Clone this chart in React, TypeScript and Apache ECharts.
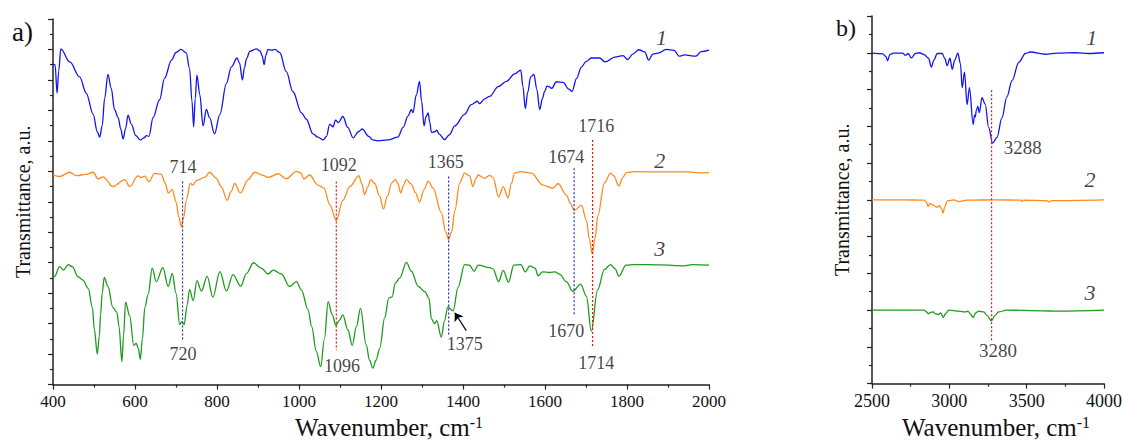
import React, { useEffect, useRef } from "react";
import * as echarts from "echarts";

// ---------- Panel a (400-2000 cm-1) ----------
const blueA: number[][] = [[400,10.5],[405,10.5],[410,9.57],[414,10.3],[419,11.02],[441,10.59],[465,10.1],[481,9.57],[498,8.87],[508,8.3],[514,8.12],[520,8.5],[526,9.4],[534,10.18],[542,9.73],[550,9.03],[559,8.76],[565,8.4],[571,8.06],[577,8.4],[583,8.84],[591,8.55],[602,8.17],[613,8.03],[622,8.1],[628,8.17],[634,8.15],[644,8.76],[660,9.35],[672,10.05],[689,10.65],[700,10.9],[712,11.0],[725,10.89],[733,10.38],[739,9.3],[743,8.46],[747,9.4],[751,10.16],[758,9.52],[766,8.49],[774,9.03],[782,8.76],[794,8.23],[807,8.87],[823,9.89],[835,10.43],[849,10.72],[855,10.55],[862,10.0],[867,10.4],[872,10.7],[880,10.94],[896,11.02],[905,10.95],[910,10.8],[915,10.5],[919,10.8],[924,11.0],[933,10.98],[941,11.0],[953,10.9],[969,10.27],[985,9.62],[1006,8.92],[1018,8.71],[1034,8.23],[1046,8.12],[1059,8.03],[1067,8.15],[1075,8.55],[1083,8.46],[1089,8.68],[1096,8.6],[1107,8.8],[1119,8.44],[1132,8.1],[1145,8.3],[1154,8.39],[1170,8.15],[1180,8.03],[1192,8.0],[1217,8.03],[1241,8.12],[1254,8.44],[1266,8.82],[1274,9.03],[1278,8.92],[1286,9.5],[1294,9.95],[1299,9.3],[1305,8.49],[1310,8.8],[1315,8.92],[1319,8.6],[1323,8.28],[1331,8.3],[1336,8.35],[1342,8.22],[1355,8.04],[1367,8.2],[1380,8.49],[1404,8.87],[1420,9.19],[1435,9.3],[1440,9.22],[1453,9.38],[1465,9.46],[1486,9.78],[1506,9.95],[1526,10.2],[1541,10.32],[1546,9.8],[1552,9.06],[1558,9.6],[1565,10.1],[1573,10.18],[1580,9.7],[1587,9.03],[1594,9.4],[1599,9.62],[1605,9.8],[1610,9.78],[1616,9.72],[1628,9.94],[1644,9.92],[1658,9.7],[1666,9.62],[1677,10.05],[1689,10.43],[1700,10.6],[1713,10.72],[1733,10.72],[1747,10.59],[1770,10.75],[1790,10.8],[1802,10.67],[1814,10.85],[1829,10.99],[1843,10.92],[1853,10.65],[1863,10.85],[1876,10.88],[1896,11.0],[1915,10.97],[1927,10.78],[1940,10.82],[1968,10.78],[1981,10.93],[2000,10.98]];

const orangeA: number[][] = [[400,6.88],[416,6.83],[441,6.97],[457,6.86],[480,6.9],[498,6.97],[510,6.75],[522,6.82],[546,6.5],[575,6.73],[587,6.5],[607,6.85],[615,6.8],[624,6.84],[634,6.66],[648,6.93],[664,6.9],[674,6.6],[681,6.29],[691,6.4],[700,6.0],[707,5.5],[713,5.18],[719,5.5],[725,6.05],[735,6.6],[741,6.55],[750,6.7],[770,6.8],[782,6.97],[798,6.78],[810,6.5],[825,6.05],[835,6.35],[843,6.6],[857,6.29],[876,6.73],[892,6.97],[912,6.87],[925,6.8],[949,6.92],[969,6.76],[994,7.0],[1004,6.95],[1012,6.75],[1026,6.88],[1046,6.55],[1061,6.45],[1075,5.91],[1091,5.38],[1107,6.05],[1124,6.5],[1146,6.86],[1153,6.6],[1160,6.24],[1168,6.5],[1175,6.73],[1185,6.6],[1196,6.2],[1206,5.77],[1216,6.2],[1226,6.62],[1235,6.73],[1241,6.6],[1248,6.29],[1255,6.55],[1262,6.73],[1274,6.58],[1284,6.3],[1294,5.99],[1305,6.4],[1315,6.68],[1327,6.45],[1347,5.65],[1358,5.0],[1365,4.76],[1372,5.0],[1380,5.7],[1392,6.62],[1404,6.94],[1416,6.85],[1424,6.5],[1431,6.75],[1437,6.88],[1453,6.77],[1465,6.87],[1473,6.8],[1487,6.16],[1498,6.5],[1510,6.13],[1518,6.6],[1526,6.94],[1541,6.99],[1567,6.94],[1595,6.55],[1619,6.45],[1632,6.6],[1652,6.23],[1662,5.95],[1671,5.72],[1689,5.88],[1701,5.4],[1708,4.8],[1715,4.3],[1722,4.8],[1729,5.55],[1745,6.62],[1760,6.94],[1768,6.85],[1780,6.52],[1790,6.8],[1798,6.96],[1818,6.99],[1880,6.98],[1950,6.98],[1975,6.95],[2000,6.96]];

const greenA: number[][] = [[400,3.52],[404,3.55],[416,3.87],[426,3.76],[437,3.94],[447,3.87],[461,3.54],[473,3.43],[486,3.16],[496,2.53],[501,1.8],[508,1.0],[513,1.6],[516,2.3],[520,3.0],[525,3.52],[534,3.22],[546,2.53],[556,2.37],[561,1.9],[568,0.75],[572,1.6],[577,2.71],[587,2.26],[597,1.29],[603,1.35],[608,1.2],[613,0.83],[618,1.5],[624,2.53],[632,2.96],[642,3.82],[652,3.38],[668,3.84],[681,3.22],[691,3.65],[700,3.0],[709,1.97],[714,2.07],[720,1.97],[727,2.6],[733,3.12],[742,2.76],[751,3.41],[762,3.07],[776,3.55],[790,2.87],[807,3.71],[823,3.07],[839,3.61],[858,3.23],[872,3.65],[889,4.0],[908,3.82],[925,3.63],[937,3.76],[957,3.63],[977,3.22],[994,3.38],[1006,3.1],[1022,2.46],[1031,1.9],[1042,1.1],[1053,0.59],[1062,1.5],[1071,2.72],[1081,2.3],[1090,1.94],[1098,2.1],[1107,2.29],[1119,1.8],[1130,1.29],[1140,1.9],[1150,2.5],[1164,1.3],[1172,0.8],[1180,0.54],[1188,0.8],[1197,1.2],[1209,2.2],[1219,2.84],[1227,2.88],[1235,3.33],[1246,3.5],[1262,4.01],[1274,3.72],[1291,3.22],[1307,3.05],[1317,2.84],[1323,2.16],[1331,2.0],[1336,2.1],[1347,1.56],[1355,2.1],[1363,2.55],[1376,2.42],[1388,3.2],[1404,3.94],[1416,3.92],[1427,3.72],[1437,3.92],[1465,3.84],[1473,3.8],[1487,3.38],[1498,3.75],[1511,3.36],[1524,3.92],[1541,3.94],[1552,3.7],[1563,3.9],[1576,3.82],[1583,3.57],[1594,3.7],[1611,3.68],[1624,3.7],[1636,3.62],[1652,3.38],[1668,3.06],[1687,3.3],[1701,2.9],[1713,1.75],[1728,3.1],[1745,3.78],[1760,3.94],[1771,3.8],[1780,3.56],[1798,3.92],[1818,3.94],[1880,3.93],[1940,3.9],[1960,3.94],[2000,3.92]];

// dotted marker lines, panel a: [wavenumber, yTop, yBottom]
const navyLinesA: number[][] = [[716,6.67,1.45],[1365,6.83,1.61],[1671,7.1,2.29]];
const redLinesA: number[][] = [[1091,6.67,1.13],[1716,8.03,1.24]];

// peak labels, panel a
const peakLabelsA: (number | string)[][] = [[717,7.13,"714"],[717,1.02,"720"],[1097,7.2,"1092"],[1105,0.61,"1096"],[1358,7.31,"1365"],[1404,1.34,"1375"],[1652,7.47,"1674"],[1652,1.75,"1670"],[1725,8.49,"1716"],[1725,0.7,"1714"]];
const curveLabelsA: (number | string)[][] = [[1884,11.4,"1"],[1880,7.37,"2"],[1880,4.46,"3"]];
const arrowA: number[][] = [[1408,1.77],[1380,2.36]];

// ---------- Panel b (2500-4000 cm-1) ----------
const blueB: number[][] = [[2500,8.99],[2569,8.97],[2590,8.9],[2601,8.78],[2615,8.95],[2640,8.99],[2697,8.99],[2718,8.93],[2733,8.98],[2755,8.86],[2780,8.98],[2805,9.0],[2837,8.95],[2865,8.85],[2884,8.61],[2900,8.8],[2922,8.98],[2954,8.98],[2970,8.85],[2986,8.65],[3004,8.85],[3019,8.55],[3035,8.8],[3055,8.99],[3072,8.7],[3083,8.05],[3098,8.47],[3115,7.59],[3130,8.05],[3154,7.05],[3163,7.3],[3167,7.25],[3176,7.45],[3184,7.54],[3194,7.37],[3211,7.78],[3232,7.6],[3254,6.97],[3280,6.54],[3308,6.7],[3340,7.23],[3372,7.8],[3406,8.25],[3449,8.74],[3492,8.98],[3524,9.02],[3620,8.96],[3700,8.99],[3813,9.0],[3900,8.98],[4000,9.0]];
const orangeB: number[][] = [[2500,5.0],[2700,5.0],[2837,4.99],[2850,4.95],[2862,4.82],[2875,4.9],[2889,4.87],[2905,4.83],[2922,4.8],[2938,4.84],[2950,4.75],[2959,4.64],[2970,4.8],[2986,4.97],[3029,5.0],[3061,4.95],[3115,4.99],[3300,5.0],[3460,4.99],[3470,4.96],[3480,4.99],[3630,4.98],[3645,4.94],[3660,4.98],[4000,5.0]];
const greenB: number[][] = [[2500,2.0],[2837,2.0],[2850,1.96],[2864,1.9],[2880,1.94],[2895,1.95],[2910,1.9],[2929,1.88],[2944,1.92],[2961,1.8],[2975,1.9],[2997,2.0],[3061,1.97],[3104,1.95],[3120,1.97],[3135,1.9],[3154,1.8],[3170,1.92],[3190,1.97],[3222,1.95],[3245,1.85],[3271,1.71],[3295,1.85],[3318,1.95],[3372,2.0],[3600,1.98],[3700,1.97],[4000,2.0]];
const redLinesB: number[][] = [[3273,7.98,1.15]];
const peakLabelsB: (number | string)[][] = [[3475,6.43,"3288"],[3314,0.9,"3280"]];
const curveLabelsB: (number | string)[][] = [[3920,9.41,"1"],[3910,5.56,"2"],[3910,2.49,"3"]];

const xTicksA = { min: 400, max: 2000, interval: 200 };
const xTicksB = { min: 2500, max: 4000, interval: 500 };

const BLUE = "#1414f0";
const ORANGE = "#ff8a1c";
const GREEN = "#1e9a1e";
const NAVY = "#2a2aa8";
const RED = "#f01010";
const AXIS = "#222";
const FONT = "Liberation Serif";

function App() {
  const ref = useRef<HTMLDivElement>(null);
  useEffect(() => {
    if (!ref.current) return;
    const chart = echarts.init(ref.current, undefined, { renderer: "svg" });

    const xAxisCommon = (r: { min: number; max: number; interval: number }, labelSize: number) => ({
      type: "value",
      min: r.min,
      max: r.max,
      interval: r.interval,
      splitLine: { show: false },
      axisLine: { show: true, lineStyle: { color: AXIS, width: 1.5 } },
      axisTick: { show: true, length: 5, lineStyle: { color: AXIS, width: 1.2 } },
      minorTick: { show: true, splitNumber: 2, length: 3, lineStyle: { color: AXIS, width: 1.2 } },
      axisLabel: { color: "#111", fontFamily: FONT, fontSize: labelSize, margin: 8, formatter: (v: number) => String(v) },
      nameLocation: "middle",
      nameGap: 27,
      name: "{a|Wavenumber, cm}{b|-1}",
      nameTextStyle: {
        padding: [0, 0, 0, 16],
        rich: {
          a: { fontFamily: FONT, fontSize: 25, color: "#111" },
          b: { fontFamily: FONT, fontSize: 16, color: "#111", verticalAlign: "top", padding: [0, 0, 10, 0] },
        },
      },
    });
    const yAxisCommon = (max: number) => ({
      type: "value",
      min: 0,
      max,
      interval: 1,
      splitLine: { show: false },
      axisLine: { show: true, lineStyle: { color: AXIS, width: 1.5 } },
      axisTick: { show: true, length: 5, lineStyle: { color: AXIS, width: 1.2 } },
      minorTick: { show: true, splitNumber: 2, length: 3, lineStyle: { color: AXIS, width: 1.2 } },
      axisLabel: { show: false },
      name: "Transmittance, a.u.",
      nameLocation: "middle",
      nameGap: 20,
      nameTextStyle: { fontFamily: FONT, fontSize: 20, color: "#111" },
    });

    const curve = (data: number[][], color: string, xi: number) => ({
      type: "line",
      xAxisIndex: xi,
      yAxisIndex: xi,
      data,
      showSymbol: false,
      symbol: "none",
      smooth: 0.35,
      smoothMonotone: "x",
      lineStyle: { color, width: 1.3 },
      z: 3,
    });
    const vline = (l: number[], color: string, xi: number) => ({
      type: "line",
      xAxisIndex: xi,
      yAxisIndex: xi,
      data: [[l[0], l[1]], [l[0], l[2]]],
      showSymbol: false,
      symbol: "none",
      lineStyle: { color, width: 1.2, type: [2, 2] },
      z: 4,
    });
    const labels = (data: (number | string)[][], xi: number, italic: boolean, size: number) => ({
      type: "scatter",
      xAxisIndex: xi,
      yAxisIndex: xi,
      data,
      symbolSize: 0,
      silent: true,
      label: {
        show: true,
        position: "inside",
        formatter: (p: any) => String(p.data[2]),
        fontFamily: FONT,
        fontSize: size,
        fontStyle: italic ? "italic" : "normal",
        color: "#111",
      },
      z: 5,
    });

    const series: any[] = [
      curve(blueA, BLUE, 0),
      curve(orangeA, ORANGE, 0),
      curve(greenA, GREEN, 0),
      ...navyLinesA.map((l) => vline(l, NAVY, 0)),
      ...redLinesA.map((l) => vline(l, RED, 0)),
      {
        ...labels(peakLabelsA, 0, false, 18),
        markLine: {
          silent: true,
          symbol: ["none", "arrow"],
          symbolSize: 8,
          label: { show: false },
          lineStyle: { color: "#000", width: 1.2, type: "solid" },
          data: [[{ coord: arrowA[0] }, { coord: arrowA[1] }]],
        },
      },
      labels(curveLabelsA, 0, true, 22),
      curve(blueB, BLUE, 1),
      curve(orangeB, ORANGE, 1),
      curve(greenB, GREEN, 1),
      ...redLinesB.map((l) => vline(l, RED, 1)),
      labels(peakLabelsB, 1, false, 19),
      labels(curveLabelsB, 1, true, 22),
    ];

    chart.setOption({
      animation: false,
      backgroundColor: "#fff",
      grid: [
        { left: 53, top: 19, width: 656, height: 371 },
        { left: 872, top: 16, width: 234, height: 376 },
      ],
      xAxis: [
        { ...xAxisCommon(xTicksA, 17), gridIndex: 0 },
        { ...xAxisCommon(xTicksB, 18), gridIndex: 1 },
      ],
      yAxis: [
        { ...yAxisCommon(12), gridIndex: 0 },
        { ...yAxisCommon(10), gridIndex: 1 },
      ],
      graphic: [
        { type: "text", left: 12, top: 18, style: { text: "a)", font: `27px '${FONT}'`, fill: "#111" } },
        { type: "text", left: 836, top: 16, style: { text: "b)", font: `24px '${FONT}'`, fill: "#111" } },
      ],
      series,
    });
    return () => chart.dispose();
  }, []);
  return <div ref={ref} style={{ position: "absolute", left: 0, top: 0, width: 1125, height: 445 }} />;
}

export default App;
